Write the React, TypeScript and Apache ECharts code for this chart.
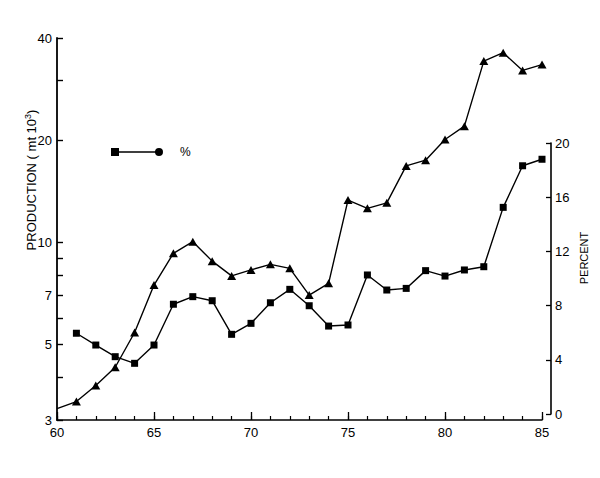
import React, { useEffect, useRef } from "react";
import * as echarts from "echarts";

const years = [60, 61, 62, 63, 64, 65, 66, 67, 68, 69, 70, 71, 72, 73, 74, 75, 76, 77, 78, 79, 80, 81, 82, 83, 84, 85];
const production = [3.24, 3.4, 3.79, 4.29, 5.43, 7.49, 9.29, 10.05, 8.81, 7.97, 8.3, 8.62, 8.39, 7.0, 7.58, 13.33, 12.6, 13.08, 16.8, 17.47, 20.1, 22.0, 34.2, 36.2, 32.1, 33.4];
const percentYears = [61, 62, 63, 64, 65, 66, 67, 68, 69, 70, 71, 72, 73, 74, 75, 76, 77, 78, 79, 80, 81, 82, 83, 84, 85];
const percent = [5.96, 5.09, 4.23, 3.74, 5.09, 8.1, 8.66, 8.36, 5.88, 6.69, 8.21, 9.2, 7.99, 6.49, 6.57, 10.26, 9.15, 9.27, 10.58, 10.18, 10.63, 10.87, 15.25, 18.32, 18.8];
const leftLabels = [3, 5, 7, 10, 20, 40];
const leftTicks = [3, 4, 5, 6, 7, 8, 9, 10, 20, 30, 40];
const rightTicks = [0, 4, 8, 12, 16, 20];
const xLabels = [60, 65, 70, 75, 80, 85];

const FONT = "Liberation Sans";
const BLACK = "#000";

export default function App() {
  const ref = useRef<HTMLDivElement>(null);
  useEffect(() => {
    document.body.style.margin = "0";
    const chart = echarts.init(ref.current!, null, { renderer: "svg" });
    const lg = (v: number) => Math.log10(v);
    const legendIcon =
      "path://M0 0H8V8H0Z M8 3.3H48V4.7H8Z M52 4A4 4 0 1 1 44 4A4 4 0 1 1 52 4Z";
    chart.setOption({
      animation: false,
      backgroundColor: "#fff",
      grid: [
        { left: 57, right: 58, top: 38, bottom: 58 },
        { left: 57, right: 58, top: 143, bottom: 64 },
      ],
      legend: {
        data: [{ name: "%", icon: legendIcon }],
        left: 106,
        top: 141,
        itemWidth: 52,
        itemHeight: 8,
        textStyle: { fontFamily: FONT, fontSize: 12, color: BLACK, padding: [0, 0, 0, 12] },
      },
      xAxis: [
        {
          type: "value",
          gridIndex: 0,
          min: 60,
          max: 85,
          interval: 1,
          axisLine: { show: true, onZero: false, lineStyle: { color: BLACK, width: 1.6 } },
          axisTick: { show: true, inside: true, length: 4, lineStyle: { color: BLACK, width: 1.2 } },
          splitLine: { show: false },
          axisLabel: {
            customValues: xLabels,
            color: BLACK,
            fontFamily: FONT,
            fontSize: 13,
            margin: 6,
          },
        },
        {
          type: "value",
          gridIndex: 0,
          position: "bottom",
          min: 60,
          max: 85,
          interval: 5,
          axisLine: { show: false },
          axisTick: { show: true, inside: true, length: 8, lineStyle: { color: BLACK, width: 1.3 } },
          axisLabel: { show: false },
          splitLine: { show: false },
        },
        { type: "value", gridIndex: 1, min: 60, max: 85, show: false },
      ],
      yAxis: [
        {
          type: "value",
          gridIndex: 0,
          min: lg(3),
          max: lg(40),
          axisLine: { show: true, onZero: false, lineStyle: { color: BLACK, width: 1.8 } },
          axisTick: {
            show: true,
            inside: true,
            length: 6,
            customValues: leftTicks.map(lg),
            lineStyle: { color: BLACK, width: 1.4 },
          },
          splitLine: { show: false },
          axisLabel: {
            customValues: leftLabels.map(lg),
            formatter: (v: number) => String(Math.round(Math.pow(10, v))),
            color: BLACK,
            fontFamily: FONT,
            fontSize: 13,
            margin: 5,
          },
        },
        {
          type: "value",
          gridIndex: 1,
          position: "right",
          offset: 9,
          min: 0,
          max: 20,
          interval: 4,
          axisLine: { show: true, onZero: false, lineStyle: { color: BLACK, width: 1.6 } },
          axisTick: {
            show: true,
            inside: true,
            length: 5,
            customValues: rightTicks,
            lineStyle: { color: BLACK, width: 1.3 },
          },
          splitLine: { show: false },
          axisLabel: {
            customValues: rightTicks,
            color: BLACK,
            fontFamily: FONT,
            fontSize: 13,
            margin: 4,
          },
        },
      ],
      series: [
        {
          name: "production",
          type: "line",
          xAxisIndex: 0,
          yAxisIndex: 0,
          data: years.map((y, i) =>
            i === 0
              ? { value: [y, lg(production[i])], symbol: "none" }
              : { value: [y, lg(production[i])] }
          ),
          symbol: "triangle",
          symbolSize: [9, 8],
          showAllSymbol: true,
          lineStyle: { color: BLACK, width: 1.4 },
          itemStyle: { color: BLACK },
        },
        {
          name: "%",
          type: "line",
          xAxisIndex: 2,
          yAxisIndex: 1,
          data: percentYears.map((y, i) => [y, percent[i]]),
          symbol: "rect",
          symbolSize: 7,
          showAllSymbol: true,
          lineStyle: { color: BLACK, width: 1.4 },
          itemStyle: { color: BLACK },
        },
      ],
      graphic: [
        {
          type: "text",
          x: 31,
          y: 180,
          rotation: Math.PI / 2,
          style: {
            text: "PRODUCTION ( mt 10{sup|3})",
            fill: BLACK,
            font: `13px "${FONT}"`,
            align: "center",
            verticalAlign: "middle",
            rich: {
              sup: {
                fontFamily: FONT,
                fontSize: 9,
                fill: BLACK,
                verticalAlign: "top",
                padding: [0, 0, 6, 0],
              },
            },
          },
        },
        {
          type: "text",
          x: 584,
          y: 258,
          rotation: Math.PI / 2,
          style: {
            text: "PERCENT",
            fill: BLACK,
            font: `11px "${FONT}"`,
            align: "center",
            verticalAlign: "middle",
          },
        },
      ],
    });
    return () => chart.dispose();
  }, []);
  return <div ref={ref} style={{ width: 600, height: 478 }} />;
}
